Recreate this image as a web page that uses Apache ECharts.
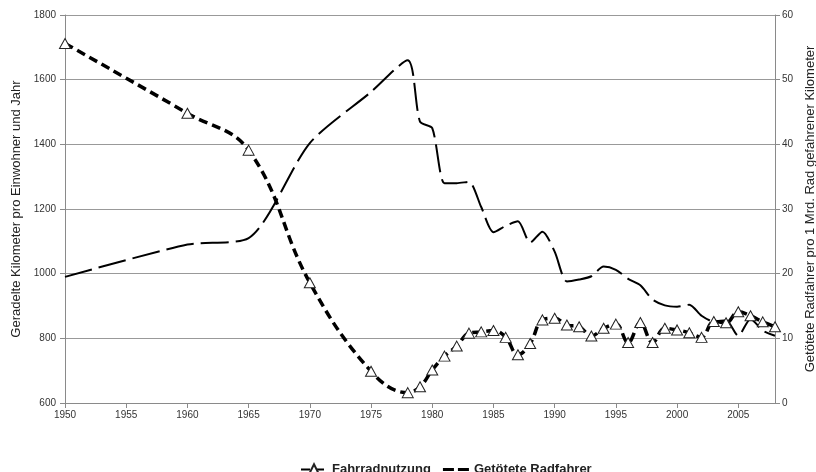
<!DOCTYPE html>
<html>
<head>
<meta charset="utf-8">
<script src="https://cdn.jsdelivr.net/npm/echarts@6/dist/echarts.min.js"></script>
<style>
  html, body { margin: 0; padding: 0; background: #fff; }
  #chart { width: 816px; height: 472px; }
</style>
</head>
<body>
<div id="chart"></div>
<script>
// Fahrradnutzung: km per inhabitant and year (left axis)
const bikeYears = [1950, 1960, 1965, 1970, 1975, 1978, 1979, 1980, 1981, 1982, 1983, 1984, 1985, 1986, 1987, 1988, 1989, 1990,
  1991, 1992, 1993, 1994, 1995, 1996, 1997, 1998, 1999, 2000, 2001, 2002, 2003, 2004, 2005, 2006, 2007, 2008]
const bikeKm = [1712, 1496, 1382, 972, 698, 632, 650, 702, 745, 776, 816, 820, 824, 803, 749, 784, 857, 862,
  841, 836, 807, 831, 844, 787, 849, 787, 831, 826, 817, 803, 852, 848, 882, 870, 851, 836]

// Getötete Radfahrer per 1 bn km cycled (right axis)
const deathYears = [1950, 1960, 1965, 1970, 1975, 1978, 1979, 1980, 1981, 1982, 1983, 1984, 1985, 1986, 1987, 1988, 1989, 1990,
  1991, 1992, 1993, 1994, 1995, 1996, 1997, 1998, 1999, 2000, 2001, 2002, 2003, 2004, 2005, 2006, 2007, 2008]
const deathRate = [19.5, 24.5, 25.5, 40.2, 48.1, 53, 43.5, 42.5, 34, 34, 34.2, 30.3, 26.4, 27.4, 28.1, 24.8, 26.5, 23.4,
  18.8, 19.1, 19.6, 21.1, 20.6, 19.2, 18.2, 16, 15.1, 14.9, 15.2, 13.5, 12.6, 12.8, 10.4, 13, 11.2, 10.4]

const leftTicks = { min: 600, max: 1800, step: 200 }
const rightTicks = { min: 0, max: 60, step: 10 }

const font = 'Liberation Sans, Arial, sans-serif'
const axisGray = '#8a8a8a'

const chart = echarts.init(document.getElementById('chart'))

const option = {
  animation: false,
  backgroundColor: '#fff',
  grid: { left: 65, right: 41, top: 15, bottom: 69, outerBoundsMode: 'none' },
  legend: {
    data: [
      { name: 'Fahrradnutzung' },
      // two short dashes, padded so the path keeps its thin height
      { name: 'Getötete Radfahrer', icon: 'path://M0,0L0,0M0,5h11v3h-11zM15,5h11v3h-11zM26,13L26,13' }
    ],
    left: 295,
    top: 458,
    itemWidth: 26,
    itemHeight: 13,
    itemGap: 12,
    textStyle: { fontFamily: font, fontSize: 13, fontWeight: 'bold', color: '#222' }
  },
  xAxis: {
    type: 'value',
    min: 1950,
    max: 2008,
    interval: 5,
    splitLine: { show: false },
    axisLine: { lineStyle: { color: axisGray } },
    axisTick: { length: 5, lineStyle: { color: axisGray } },
    axisLabel: { showMaxLabel: false, margin: 7, fontFamily: font, fontSize: 10, color: '#333', formatter: v => String(v) }
  },
  yAxis: [{
    type: 'value',
    min: leftTicks.min,
    max: leftTicks.max,
    interval: leftTicks.step,
    name: 'Geradelte Kilometer pro Einwohner und Jahr',
    nameLocation: 'middle',
    nameGap: 42,
    nameRotate: 90,
    nameTextStyle: { fontFamily: font, fontSize: 13, color: '#222' },
    axisLine: { show: true, lineStyle: { color: axisGray } },
    axisTick: { show: true, length: 5, lineStyle: { color: axisGray } },
    axisLabel: { margin: 9, fontFamily: font, fontSize: 10, color: '#333', formatter: v => String(v) },
    splitLine: { lineStyle: { color: '#999', width: 1 } }
  }, {
    type: 'value',
    position: 'right',
    min: rightTicks.min,
    max: rightTicks.max,
    interval: rightTicks.step,
    name: 'Getötete Radfahrer pro 1 Mrd. Rad gefahrener Kilometer',
    nameLocation: 'middle',
    nameGap: 27,
    nameRotate: 90,
    nameTextStyle: { fontFamily: font, fontSize: 13, color: '#222' },
    axisLine: { show: true, lineStyle: { color: axisGray } },
    axisTick: { show: true, length: 5, lineStyle: { color: axisGray } },
    axisLabel: { margin: 7, fontFamily: font, fontSize: 10, color: '#333' },
    splitLine: { show: false }
  }],
  series: [{
    name: 'Getötete Radfahrer',
    type: 'line',
    yAxisIndex: 1,
    smooth: 0.25,
    symbol: 'none',
    data: deathYears.map((y, i) => [y, deathRate[i]]),
    itemStyle: { color: '#000' },
    lineStyle: { color: '#000', width: 2, type: [28, 7] },
    z: 2
  }, {
    name: 'Fahrradnutzung',
    type: 'line',
    yAxisIndex: 0,
    smooth: 0.4,
    symbol: 'triangle',
    symbolSize: [11, 10],
    data: bikeYears.map((y, i) => [y, bikeKm[i]]),
    itemStyle: { color: '#fff', borderColor: '#222', borderWidth: 1 },
    lineStyle: { color: '#000', width: 3.5, type: [9, 5] },
    z: 3
  }]
}

chart.setOption(option)
</script>
</body>
</html>
